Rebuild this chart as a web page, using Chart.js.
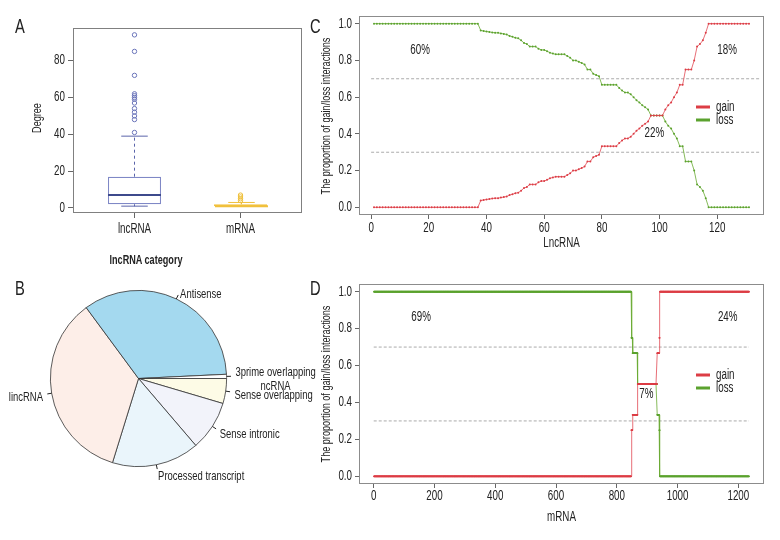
<!DOCTYPE html>
<html>
<head>
<meta charset="utf-8">
<script src="https://cdn.jsdelivr.net/npm/chart.js@4.4.1/dist/chart.umd.min.js"></script>
<style>
  body { margin: 0; background: #fff; }
  #wrap { position: relative; width: 780px; height: 540px; overflow: hidden;
          font-family: "Liberation Sans", Arial, sans-serif; color: #222; }
  canvas { position: absolute; }
  .tag { position: absolute; font-size: 21px; line-height: 21px; transform: scaleX(0.7); transform-origin: left top; }
  #titleB { position: absolute; left: 0; width: 292px; top: 252px; text-align: center;
            font-weight: bold; font-size: 13px; line-height: 16px; transform: scaleX(0.7); }
</style>
</head>
<body>
<div id="wrap">
  <canvas id="chartA" style="left:0;top:0" width="320" height="250"></canvas>
  <canvas id="chartB" style="left:0;top:250px" width="320" height="290"></canvas>
  <canvas id="chartC" style="left:312px;top:0" width="468" height="262"></canvas>
  <canvas id="chartD" style="left:312px;top:262px" width="468" height="278"></canvas>
  <div class="tag" style="left:15px;top:15px">A</div>
  <div class="tag" style="left:15px;top:277px">B</div>
  <div class="tag" style="left:310px;top:15px">C</div>
  <div class="tag" style="left:310px;top:277px">D</div>
  <div id="titleB">lncRNA category</div>
</div>
<script>
const FAMILY = '"Liberation Sans", Arial, sans-serif';
const SX = 0.7; // horizontal squeeze to imitate the condensed face of the figure
Chart.defaults.font.family = FAMILY;
Chart.defaults.font.size = 14;
Chart.defaults.color = "#222";

// ---- A: degree boxplot ----
const groupsA = ["lncRNA", "mRNA"];
const whiskerLow = [1, 1];
const quart1 = [2, 1];
const medianA = [7, 1];
const quart3 = [17, 2];
const whiskerHigh = [39, 3];
const outliersLnc = [41, 48, 50, 52, 54, 57, 59, 60, 61, 62, 72, 85, 94];
const outliersMrna = [4, 5, 6, 7];
const degreeTicks = [0, 20, 40, 60, 80];

// ---- B: lncRNA category (clockwise from 3 o'clock) ----
const categoryB = ["Sense overlapping", "Sense intronic", "Processed transcript", "lincRNA", "Antisense", ["3prime overlapping", "ncRNA"]];
const countB = [6, 12, 21, 46, 45, 1];

// ---- C: gain proportion per lncRNA (sorted) ----
const zerosC = 37;
const gainRampC = [0.037, 0.04, 0.043, 0.045, 0.048, 0.05, 0.05, 0.053, 0.056, 0.059,
  0.067, 0.071, 0.077, 0.08, 0.091, 0.105, 0.111, 0.125, 0.125, 0.125,
  0.136, 0.143, 0.143, 0.15, 0.158, 0.163, 0.167, 0.167, 0.167, 0.167,
  0.176, 0.185, 0.2, 0.2, 0.208, 0.214, 0.222, 0.25, 0.25, 0.273,
  0.28, 0.286, 0.333, 0.333, 0.333, 0.333, 0.333, 0.333,
  0.35, 0.364, 0.375, 0.375, 0.385, 0.4, 0.417, 0.429, 0.444, 0.455,
  0.467, 0.5, 0.5, 0.5, 0.5, 0.5,
  0.533, 0.556, 0.571, 0.6, 0.625, 0.667, 0.667,
  0.75, 0.75, 0.75, 0.8, 0.875, 0.889, 0.909, 0.95];
const onesC = 15;
const ticksXC = [0, 20, 40, 60, 80, 100, 120];
const spanC = [0, 135];

// ---- D: gain proportion per mRNA (sorted, as runs) ----
const gainLevelsD = [0, 0.25, 0.333, 0.5, 0.667, 0.75, 1];
const gainCountsD = [847, 4, 17, 64, 7, 2, 294];
const ticksXD = [0, 200, 400, 600, 800, 1000, 1200];
const spanD = [0, 1235];

const propTicks = [0, 0.2, 0.4, 0.6, 0.8, 1.0];
const thresholds = [0.3, 0.7];
const seriesNames = ["gain", "loss"];
const seriesColors = ["#dc3d45", "#5ba22e"];

function expand(levels, counts) {
  const out = [];
  levels.forEach((v, i) => { for (let k = 0; k < counts[i]; k++) out.push(v); });
  return out;
}
const gainC = [...expand([0], [zerosC]), ...gainRampC, ...expand([1], [onesC])];
const gainD = expand(gainLevelsD, gainCountsD);

function strokeLine(ctx, x1, y1, x2, y2) {
  ctx.beginPath(); ctx.moveTo(x1, y1); ctx.lineTo(x2, y2); ctx.stroke();
}

function ctext(ctx, text, x, y, opt = {}) {
  ctx.save();
  ctx.font = (opt.weight || "normal") + " " + (opt.size || 14) + "px " + FAMILY;
  ctx.fillStyle = opt.color || "#222";
  ctx.textAlign = opt.align || "center";
  ctx.textBaseline = "middle";
  ctx.translate(x, y);
  if (opt.rotate) ctx.rotate(-Math.PI / 2);
  ctx.scale(SX, 1);
  ctx.fillText(text, 0, 0);
  ctx.restore();
}

const frame = {
  id: "frame",
  beforeDatasetsDraw(chart, args, o) {
    const { ctx, chartArea: a } = chart;
    ctx.save();
    ctx.strokeStyle = o.color || "#888";
    ctx.lineWidth = 1;
    ctx.strokeRect(Math.round(a.left) + 0.5, Math.round(a.top) + 0.5, Math.round(a.width) - 1, Math.round(a.height) - 1);
    ctx.restore();
  }
};

const axisText = {
  id: "axisText",
  afterDraw(chart, args, o) {
    const { ctx, chartArea: a, scales: { x, y } } = chart;
    x.ticks.forEach(t => ctext(ctx, o.xFmt(t.value), x.getPixelForValue(t.value), o.xLabelY));
    y.ticks.forEach(t => ctext(ctx, o.yFmt(t.value), o.yLabelX, y.getPixelForValue(t.value), { align: "right" }));
    ctext(ctx, o.xTitle, (a.left + a.right) / 2, o.xTitleY);
    ctext(ctx, o.yTitle, o.yTitleX, o.yTitleY, { rotate: true, size: 13 });
  }
};

const boxParts = {
  id: "boxParts",
  afterDatasetsDraw(chart, args, o) {
    const { ctx, scales: { x, y } } = chart;
    const bars = chart.getDatasetMeta(0).data;
    ctx.save();
    groupsA.forEach((g, i) => {
      const cx = Math.round(x.getPixelForValue(i + 1)) + 0.5;
      const w = bars[i].width;
      const yHi = y.getPixelForValue(whiskerHigh[i]);
      const yLo = y.getPixelForValue(whiskerLow[i]);
      ctx.strokeStyle = o.whisker[i];
      ctx.lineWidth = 1;
      ctx.setLineDash([3, 3]);
      strokeLine(ctx, cx, y.getPixelForValue(quart3[i]), cx, yHi);
      strokeLine(ctx, cx, y.getPixelForValue(quart1[i]), cx, yLo);
      ctx.setLineDash([]);
      strokeLine(ctx, cx - w / 4, yHi, cx + w / 4, yHi);
      strokeLine(ctx, cx - w / 4, yLo, cx + w / 4, yLo);
      ctx.strokeStyle = o.median[i];
      ctx.lineWidth = 2;
      const ym = y.getPixelForValue(medianA[i]);
      strokeLine(ctx, cx - w / 2, ym, cx + w / 2, ym);
    });
    ctx.restore();
  }
};

const pieLabels = {
  id: "pieLabels",
  afterDatasetsDraw(chart) {
    const ctx = chart.ctx;
    const arcs = chart.getDatasetMeta(0).data;
    const labels = chart.data.labels;
    const size = 13.5;
    ctx.save();
    ctx.font = size + "px " + FAMILY;
    ctx.strokeStyle = "#222";
    ctx.lineWidth = 1;
    arcs.forEach((a, i) => {
      const p = a.getProps(["x", "y", "startAngle", "endAngle", "outerRadius"]);
      const m = (p.startAngle + p.endAngle) / 2;
      const c = Math.cos(m), s = Math.sin(m), r = p.outerRadius;
      strokeLine(ctx, p.x + c * r, p.y + s * r, p.x + c * r * 1.05, p.y + s * r * 1.05);
      const tx = p.x + c * r * 1.1, ty = p.y + s * r * 1.1 + 3;
      const lines = [].concat(labels[i]);
      const widths = lines.map(t => ctx.measureText(t).width * SX);
      const maxW = Math.max(...widths);
      const left = c > 0 ? tx : tx - maxW;
      const y0 = ty - (lines.length - 1) * 14 / 2;
      lines.forEach((t, k) => ctext(ctx, t, left + (maxW - widths[k]) / 2, y0 + k * 14, { align: "left", size: size }));
    });
    ctx.restore();
  }
};

const notes = {
  id: "notes",
  afterDatasetsDraw(chart, args, o) {
    const { ctx, chartArea: a, scales: { x, y } } = chart;
    o.texts.forEach(t => ctext(ctx, t.text, x.getPixelForValue(t.x), y.getPixelForValue(t.y)));
    ctx.save();
    seriesNames.forEach((n, i) => {
      const ly = a.top + 91 + i * 13;
      ctx.strokeStyle = seriesColors[i];
      ctx.lineWidth = 3;
      strokeLine(ctx, a.right - 68, ly, a.right - 54, ly);
      ctext(ctx, n, a.right - 48, ly, { align: "left" });
    });
    ctx.restore();
  }
};

const baseAxis = {
  grid: { drawOnChartArea: false, tickLength: 4, color: "#666", offset: false },
  border: { display: false },
  ticks: { display: false },
  offset: false
};

// ---- A ----
new Chart(document.getElementById("chartA"), {
  type: "bar",
  data: {
    datasets: [
      {
        data: groupsA.map((g, i) => ({ x: i + 1, y: [quart1[i], quart3[i]] })),
        backgroundColor: ["#ffffff", "#f7cd55"],
        borderColor: ["#7f88c6", "#f2c23e"],
        borderWidth: 1.2,
        borderSkipped: false,
        barPercentage: 0.5,
        categoryPercentage: 1
      },
      {
        type: "scatter",
        data: outliersLnc.map(v => ({ x: 1, y: v })),
        pointRadius: 2.2, borderWidth: 1,
        borderColor: "#6b75ba", backgroundColor: "rgba(0,0,0,0)"
      },
      {
        type: "scatter",
        data: outliersMrna.map(v => ({ x: 2, y: v })),
        pointRadius: 2.2, borderWidth: 1,
        borderColor: "#eebf3a", backgroundColor: "rgba(0,0,0,0)"
      }
    ]
  },
  options: {
    responsive: false,
    animation: false,
    layout: { padding: { top: 28, right: 18, left: 0, bottom: 0 } },
    plugins: {
      legend: { display: false },
      tooltip: { enabled: false },
      frame: { color: "#808080" },
      boxParts: { whisker: ["#5a64aa", "#f0c03c"], median: ["#3d4a8c", "#f0c03c"] },
      axisText: {
        xFmt: v => groupsA[v - 1], yFmt: v => String(v),
        xLabelY: 229, yLabelX: 65,
        xTitle: "", xTitleY: 0,
        yTitle: "Degree", yTitleX: 37, yTitleY: 118
      }
    },
    scales: {
      x: {
        ...baseAxis,
        type: "linear", min: 0.42, max: 2.58,
        grid: { ...baseAxis.grid, tickLength: 5 },
        afterBuildTicks: s => { s.ticks = groupsA.map((g, i) => ({ value: i + 1 })); },
        afterFit: s => { s.height = 37; }
      },
      y: {
        ...baseAxis,
        min: -2.72, max: 97.72,
        grid: { ...baseAxis.grid, tickLength: 5 },
        afterBuildTicks: s => { s.ticks = degreeTicks.map(v => ({ value: v })); },
        afterFit: s => { s.width = 73; }
      }
    }
  },
  plugins: [frame, boxParts, axisText]
});

// ---- B ----
new Chart(document.getElementById("chartB"), {
  type: "pie",
  data: {
    labels: categoryB,
    datasets: [{
      data: countB,
      backgroundColor: ["#fdfbe6", "#f2f3fa", "#eaf5fb", "#fdeee8", "#a4d9ef", "#ffffff"],
      borderColor: "#333",
      borderWidth: 0.8
    }]
  },
  options: {
    responsive: false,
    animation: false,
    rotation: 90,
    layout: { padding: { left: 50, right: 93, top: 40, bottom: 73 } },
    plugins: { legend: { display: false }, tooltip: { enabled: false } }
  },
  plugins: [pieLabels]
});

// ---- C and D ----
function propChart(id, gain, span, ticksX, xMin, xMax, axisH, top, xTitle, xLabelY, xTitleY, texts, ptR) {
  return new Chart(document.getElementById(id), {
    type: "line",
    data: {
      datasets: [
        {
          label: seriesNames[0],
          data: gain.map((g, i) => ({ x: i + 1, y: g })),
          borderColor: "rgba(225,75,85,0.8)", borderWidth: 1,
          pointRadius: ptR, pointBorderWidth: 0, pointBackgroundColor: seriesColors[0]
        },
        {
          label: seriesNames[1],
          data: gain.map((g, i) => ({ x: i + 1, y: 1 - g })),
          borderColor: "rgba(105,170,50,0.8)", borderWidth: 1,
          pointRadius: ptR, pointBorderWidth: 0, pointBackgroundColor: seriesColors[1]
        },
        ...thresholds.map(t => ({
          data: span.map(v => ({ x: v, y: t })),
          borderColor: "#ababab", borderWidth: 1, borderDash: [3, 2], pointRadius: 0
        }))
      ]
    },
    options: {
      responsive: false,
      animation: false,
      normalized: true,
      layout: { padding: { top: top, right: 16, left: 0, bottom: 0 } },
      plugins: {
        legend: { display: false },
        tooltip: { enabled: false },
        frame: { color: "#8c8c8c" },
        notes: { texts: texts },
        axisText: {
          xFmt: v => String(v), yFmt: v => v.toFixed(1),
          xLabelY: xLabelY, yLabelX: 40,
          xTitle: xTitle, xTitleY: xTitleY,
          yTitle: "The proportion of gain/loss interactions", yTitleX: 14, yTitleY: top + 100
        }
      },
      scales: {
        x: {
          ...baseAxis,
          type: "linear", min: xMin, max: xMax,
          afterBuildTicks: s => { s.ticks = ticksX.map(v => ({ value: v })); },
          afterFit: s => { s.height = axisH; }
        },
        y: {
          ...baseAxis,
          min: -0.0416, max: 1.0416,
          afterBuildTicks: s => { s.ticks = propTicks.map(v => ({ value: v })); },
          afterFit: s => { s.width = 47; }
        }
      }
    },
    plugins: [frame, notes, axisText]
  });
}

propChart("chartC", gainC, spanC, ticksXC, -4.2, 136.2, 47, 16, "LncRNA", 228, 243,
  [{ text: "60%", x: 17, y: 0.855 }, { text: "22%", x: 98.2, y: 0.404 }, { text: "18%", x: 123.4, y: 0.855 }], 1);
propChart("chartD", gainD, spanD, ticksXD, -48.4, 1284.4, 56, 22, "mRNA", 234, 255,
  [{ text: "69%", x: 156, y: 0.861 }, { text: "7%", x: 897, y: 0.444 }, { text: "24%", x: 1165, y: 0.861 }], 0.9);
</script>
</body>
</html>
